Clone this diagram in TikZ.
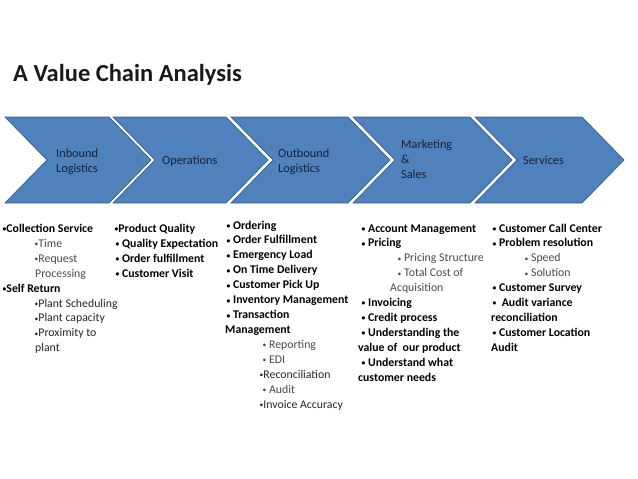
\documentclass[tikz,border=0pt]{standalone}
\usepackage{fontspec}
\setmainfont{Carlito}
\definecolor{cfill}{HTML}{4F81BD}
\definecolor{cline}{HTML}{385D8A}
\definecolor{ctext}{HTML}{17223A}
\definecolor{subgray}{HTML}{4A4A4A}
\newcommand{\bu}{\raisebox{0.7pt}{\fontsize{7.5}{8}\selectfont •}}
\begin{document}
\begin{tikzpicture}[x=1pt,y=-1pt,
  chev/.style={fill=cfill,draw=cline,line width=0.7pt,line join=miter},
  clab/.style={anchor=base west,inner sep=0,font=\fontsize{12.3}{14}\selectfont,text=ctext},
  li/.style={anchor=base west,inner sep=0},
  B/.style={font=\fontsize{11.8}{13}\selectfont\bfseries,text=black},
  G/.style={font=\fontsize{11.8}{13}\selectfont,text=subgray},
  N/.style={font=\fontsize{11.8}{13}\selectfont,text=black!85}]
\useasboundingbox (0,0) rectangle (638,479);
\fill[white] (0,0) rectangle (638,479);
% title
\node[anchor=base west,inner sep=0,font=\fontsize{24.5}{28}\selectfont\bfseries,text=black!90] (title) at (13,81) {A Value Chain Analysis};
% chevrons
\foreach \L/\R in {5/109,113/226,231/348,353/470,475/582}
  \draw[chev] (\L,117) -- (\R,117) -- ({\R+42},160) -- (\R,203) -- (\L,203) -- ({\L+42},160) -- cycle;
% chevron labels
\node[clab] (in1) at (56,157) {Inbound};
\node[clab] (in2) at (56,172) {Logistics};
\node[clab] (op) at (162,164) {Operations};
\node[clab] (ou1) at (278,157) {Outbound};
\node[clab] (ou2) at (278,172) {Logistics};
\node[clab] (ms1) at (401,148) {Marketing};
\node[clab] (ms2) at (401,163) {\&};
\node[clab] (ms3) at (401,178) {Sales};
\node[clab] (sv) at (523,164) {Services};
% column 1
\foreach \x/\s/\t [count=\i] in {2.5/B/\bu Collection Service,34.5/G/\bu Time,34.5/G/\bu Request,35/G/Processing,2.5/B/\bu Self Return,34.5/N/\bu Plant Scheduling,34.5/N/\bu Plant capacity,34.5/N/\bu Proximity to,35/N/plant}
  \node[li,\s] (a\i) at (\x,{232.5+(\i-1)*14.9}) {\t};
% column 2
\foreach \x/\s/\t [count=\i] in {114.5/B/\bu Product Quality,115.5/B/\bu{} Quality Expectation,115.5/B/\bu{} Order fulfillment,115.5/B/\bu{} Customer Visit}
  \node[li,\s] (b\i) at (\x,{232.5+(\i-1)*14.9}) {\t};
% column 3
\foreach \x/\s/\t [count=\i] in {226.5/B/\bu{} Ordering,226.5/B/\bu{} Order Fulfillment,226.5/B/\bu{} Emergency Load,226.5/B/\bu{} On Time Delivery,226.5/B/\bu{} Customer Pick Up,226.5/B/\bu{} Inventory Management,226.5/B/\bu{} Transaction,225/B/Management,262.5/G/\bu{} Reporting,262.5/G/\bu{} EDI,259.5/N/\bu Reconciliation,262.5/G/\bu{} Audit,259.5/N/\bu Invoice Accuracy}
  \node[li,\s] (c\i) at (\x,{229+(\i-1)*14.95}) {\t};
% column 4
\foreach \x/\s/\t [count=\i] in {361.5/B/\bu{} Account Management,361.5/B/\bu{} Pricing,397.5/G/\bu{} Pricing Structure,397.5/G/\bu{} Total Cost of,390/G/Acquisition,361.5/B/\bu{} Invoicing,361.5/B/\bu{} Credit process,361.5/B/\bu{} Understanding the,358/B/value of~ our product,361.5/B/\bu{} Understand what,358/B/customer needs}
  \node[li,\s] (d\i) at (\x,{232+(\i-1)*14.9}) {\t};
% column 5
\foreach \x/\s/\t [count=\i] in {492.5/B/\bu{} Customer Call Center,492.5/B/\bu{} Problem resolution,524.5/G/\bu{} Speed,524.5/G/\bu{} Solution,492.5/B/\bu{} Customer Survey,492.5/B/\bu~ Audit variance,491/B/reconciliation,492.5/B/\bu{} Customer Location,491/B/Audit}
  \node[li,\s] (e\i) at (\x,{232+(\i-1)*14.9}) {\t};
\end{tikzpicture}
\end{document}
